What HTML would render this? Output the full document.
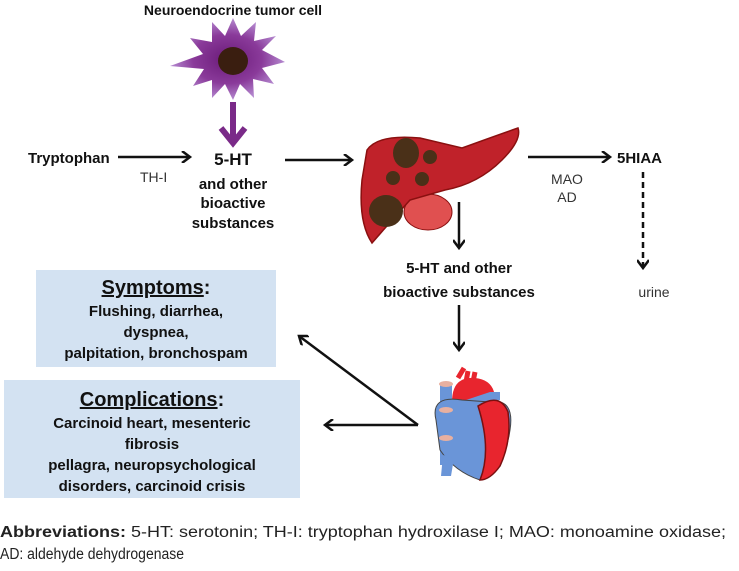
<!DOCTYPE html>
<html><head><meta charset="utf-8"><style>
html,body{margin:0;padding:0;background:#fff;}
svg{display:block;font-family:"Liberation Sans",Arial,sans-serif;}
.b{font-weight:bold;fill:#111;}
</style></head><body>
<svg width="739" height="571" viewBox="0 0 739 571" xmlns="http://www.w3.org/2000/svg">
<defs>
<radialGradient id="st" cx="50%" cy="50%" r="50%">
<stop offset="0" stop-color="#6a1a78"/><stop offset="0.6" stop-color="#8a3a9a"/><stop offset="1" stop-color="#b58ad0"/>
</radialGradient>
<marker id="ah" markerWidth="12" markerHeight="12" refX="9" refY="6" orient="auto" markerUnits="userSpaceOnUse"><path d="M1,0 L9,6 L1,12" fill="none" stroke="#111" stroke-width="2.5"/></marker>
</defs>

<text x="233" y="15" text-anchor="middle" class="b" font-size="14">Neuroendocrine tumor cell</text>
<polygon fill="url(#st)" points="233,18 241,36 256,22 254,41 276,36 262,50 285,62 262,68 274,84 253,79 254,98 240,84 233,100 225,84 212,98 212,80 193,86 204,69 170,66 203,54 190,38 212,42 212,22 225,36"/>
<ellipse cx="233" cy="61" rx="15" ry="14" fill="#3a1e10"/>
<line x1="233" y1="102" x2="233" y2="140" stroke="#7a2a88" stroke-width="6"/>
<path d="M221,128 L233,143 L245,128" fill="none" stroke="#7a2a88" stroke-width="6"/>

<text x="28" y="163" class="b" font-size="15">Tryptophan</text>
<line x1="118" y1="157" x2="190" y2="157" stroke="#111" stroke-width="2.5" marker-end="url(#ah)"/>
<text x="140" y="182" font-size="14" fill="#333">TH-I</text>

<g class="b" font-size="15" text-anchor="middle">
<text x="233" y="165" font-size="17">5-HT</text>
<text x="233" y="189">and other</text>
<text x="233" y="208">bioactive</text>
<text x="233" y="228">substances</text>
</g>
<line x1="285" y1="160" x2="352" y2="160" stroke="#111" stroke-width="2.5" marker-end="url(#ah)"/>

<ellipse cx="428" cy="212" rx="24" ry="18" fill="#e05050" stroke="#8a1010" stroke-width="1"/>
<path d="M367,150 Q378,134 420,138 L462,148 Q495,136 518,128 Q522,140 502,160 Q478,184 445,190 L410,200 Q385,228 372,243 Q358,222 362,180 Z" fill="#c0222a" stroke="#8a1010" stroke-width="1.5"/>
<g fill="#4a3018">
<ellipse cx="406" cy="153" rx="13" ry="15"/>
<ellipse cx="430" cy="157" rx="7" ry="7"/>
<ellipse cx="393" cy="178" rx="7" ry="7"/>
<ellipse cx="422" cy="179" rx="7" ry="7"/>
<ellipse cx="386" cy="211" rx="17" ry="16"/>
</g>

<line x1="528" y1="157" x2="610" y2="157" stroke="#111" stroke-width="2.5" marker-end="url(#ah)"/>
<text x="617" y="163" class="b" font-size="15">5HIAA</text>
<text x="567" y="184" text-anchor="middle" font-size="14" fill="#333">MAO</text>
<text x="567" y="202" text-anchor="middle" font-size="14" fill="#333">AD</text>
<line x1="643" y1="172" x2="643" y2="268" stroke="#111" stroke-width="2.5" stroke-dasharray="6,4" marker-end="url(#ah)"/>
<text x="654" y="297" text-anchor="middle" font-size="14" fill="#333">urine</text>

<line x1="459" y1="202" x2="459" y2="248" stroke="#111" stroke-width="2.5" marker-end="url(#ah)"/>
<g class="b" font-size="15" text-anchor="middle">
<text x="459" y="273">5-HT and other</text>
<text x="459" y="297">bioactive substances</text>
</g>
<line x1="459" y1="305" x2="459" y2="350" stroke="#111" stroke-width="2.5" marker-end="url(#ah)"/>

<!-- heart -->
<g>
<path d="M458,378 L464,368 M466,382 L468,371 M473,382 L475,372" stroke="#e8252e" stroke-width="5"/>
<path d="M452,402 Q452,376 475,378 Q495,380 495,400 L470,415 Z" fill="#e8252e"/>
<rect x="440" y="385" width="12" height="80" fill="#6a95d8"/>
<path d="M466,400 L490,392 L500,392 L500,400 L488,402 Z" fill="#6a95d8"/>
<path d="M436,420 Q430,395 462,400 L490,402 Q515,398 510,430 Q506,462 480,480 Q455,472 440,450 Z" fill="#6a95d8" stroke="#444" stroke-width="1"/>
<path d="M478,406 Q500,392 508,412 Q512,440 500,466 Q490,480 480,480 Q492,450 478,406 Z" fill="#e8252e" stroke="#7a1010" stroke-width="1.5"/>
<path d="M443,455 L441,476 L451,476 L454,458 Z" fill="#6a95d8"/>
<ellipse cx="446" cy="384" rx="7" ry="3" fill="#e8b0a0"/>
<ellipse cx="446" cy="410" rx="7" ry="3" fill="#e8b0a0"/>
<ellipse cx="446" cy="438" rx="7" ry="3" fill="#e8b0a0"/>
</g>

<line x1="418" y1="425" x2="299" y2="336" stroke="#111" stroke-width="2.5" marker-end="url(#ah)"/>
<line x1="418" y1="425" x2="325" y2="425" stroke="#111" stroke-width="2.5" marker-end="url(#ah)"/>

<rect x="36" y="270" width="240" height="97" fill="#d3e2f2"/>
<g class="b" font-size="15" text-anchor="middle">
<text x="156" y="294" font-size="20"><tspan text-decoration="underline">Symptoms</tspan>:</text>
<text x="156" y="316">Flushing, diarrhea,</text>
<text x="156" y="337">dyspnea,</text>
<text x="156" y="358">palpitation,  bronchospam</text>
</g>
<rect x="4" y="380" width="296" height="118" fill="#d3e2f2"/>
<g class="b" font-size="15" text-anchor="middle">
<text x="152" y="406" font-size="20"><tspan text-decoration="underline">Complications</tspan>:</text>
<text x="152" y="428">Carcinoid heart, mesenteric</text>
<text x="152" y="449">fibrosis</text>
<text x="152" y="470">pellagra, neuropsychological</text>
<text x="152" y="491">disorders, carcinoid crisis</text>
</g>

<text x="0" y="537" font-size="15.5" fill="#222" textLength="726" lengthAdjust="spacingAndGlyphs"><tspan font-weight="bold">Abbreviations:</tspan> 5-HT: serotonin; TH-I: tryptophan hydroxilase I; MAO: monoamine oxidase;</text>
<text x="0" y="559" font-size="15.5" fill="#222" textLength="184" lengthAdjust="spacingAndGlyphs">AD: aldehyde dehydrogenase</text>
</svg>
</body></html>
